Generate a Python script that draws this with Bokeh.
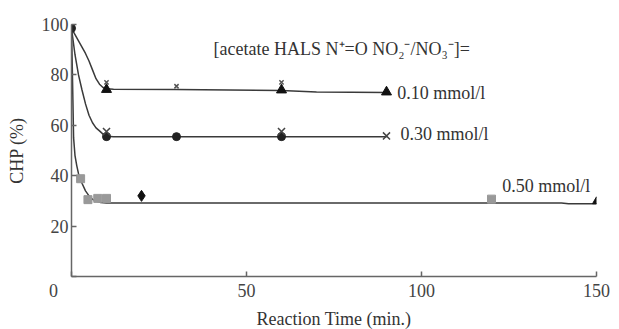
from bokeh.plotting import figure
from bokeh.models import Label, Range1d, FixedTicker
from bokeh.embed import file_html
from bokeh.resources import INLINE

# ---- data ----
start_x = [0]
start_y = [98.5]

# 0.10 mmol/l
s10_tri_x = [10, 60, 90]
s10_tri_y = [74.2, 74.0, 73.2]
s10_err_x = [10, 30, 60]
s10_err_y = [77.0, 75.5, 77.0]
fit10_x = [0, 1, 2, 3, 4, 5, 6, 7, 8, 9, 10, 12, 30, 60, 70, 90]
fit10_y = [98.5, 96, 93.5, 91, 88.5, 85.5, 82, 78.5, 76.3, 75, 74.5, 74.3, 74.2, 73.8, 73.2, 73.0]

# 0.30 mmol/l
s30_dot_x = [10, 30, 60]
s30_dot_y = [55.5, 55.5, 55.5]
s30_x_x = [10, 60, 90]
s30_x_y = [57.5, 57.5, 55.8]
fit30_x = [0, 1, 2, 3, 4, 5, 6, 7, 8, 9, 10, 12, 90]
fit30_y = [98.5, 88, 80, 74, 68.5, 64, 61, 59, 57.8, 56.5, 55.7, 55.5, 55.5]

# 0.50 mmol/l
s50_sq_x = [2.6, 4.7, 7.5, 10, 120]
s50_sq_y = [38.8, 30.5, 31.0, 31.0, 30.7]
s50_dia_x = [20]
s50_dia_y = [32]
s50_end_x = [150]
s50_end_y = [29.8]
fit50_x = [0, 0.2, 0.4, 0.6, 1, 1.5, 2, 3, 4, 5, 6, 7, 8.3, 10, 140, 142, 150]
fit50_y = [98.5, 85, 70, 55, 48, 44, 40.8, 37, 34, 32, 30.6, 29.9, 29.4, 29.2, 29.2, 28.9, 28.9]

series_labels = ["0.10 mmol/l", "0.30 mmol/l", "0.50 mmol/l"]
label_pos_x = [93.1, 94.0, 123.1]
label_pos_y = [72.9, 56.7, 36.0]
title_text = "[acetate HALS N\u207a=O NO\u2082\u207b/NO\u2083\u207b]="

x_ticks = [0, 50, 100, 150]
y_ticks = [0, 20, 40, 60, 80, 100]
origin_label = "0" + "\u00a0" * 8   # origin "0" sits left of the corner in the reference

FONT = "Liberation Serif"
FS = "18px"
LINE = "#3a3a3a"
AX = "#666666"

p = figure(frame_width=525, frame_height=252, output_backend="svg",
           toolbar_location=None, x_range=Range1d(0, 150), y_range=Range1d(0, 100),
           min_border_left=71, min_border_right=15, min_border_top=24, min_border_bottom=48)
p.outline_line_color = None
p.grid.visible = False
p.background_fill_color = "white"

for ax in (p.xaxis[0], p.yaxis[0]):
    ax.axis_line_color = AX
    ax.axis_line_width = 1.5
    ax.major_tick_line_color = AX
    ax.major_tick_line_width = 1.5
    ax.major_tick_in = 5
    ax.major_tick_out = 0
    ax.minor_tick_line_color = None
    ax.major_label_text_font = FONT
    ax.major_label_text_font_size = FS
    ax.major_label_text_color = "#444444"
    ax.axis_label_text_font = FONT
    ax.axis_label_text_font_size = FS
    ax.axis_label_text_font_style = "normal"
    ax.axis_label_text_color = "#333333"

p.xaxis.ticker = FixedTicker(ticks=x_ticks)
p.yaxis.ticker = FixedTicker(ticks=y_ticks)
p.xaxis.major_label_overrides = {0: origin_label}
p.yaxis.major_label_overrides = {0: ""}
p.xaxis.axis_label = "Reaction Time (min.)"
p.yaxis.axis_label = "CHP (%)"
p.xaxis.major_label_standoff = 4
p.xaxis.axis_label_standoff = 5
p.yaxis.major_label_standoff = 3
p.yaxis.axis_label_standoff = 12

# fit lines
p.line(fit10_x, fit10_y, line_color=LINE, line_width=1.5)
p.line(fit30_x, fit30_y, line_color=LINE, line_width=1.5)
p.line(fit50_x, fit50_y, line_color=LINE, line_width=1.5)

# markers
p.scatter(start_x, start_y, marker="circle", size=8, color="#222222")
p.scatter(s10_tri_x, s10_tri_y, marker="triangle", size=10, color="#111111")
p.scatter(s10_err_x, s10_err_y, marker="x", size=6, line_color="#555555", line_width=1.5)
p.scatter(s30_dot_x, s30_dot_y, marker="circle", size=8, color="#222222")
p.scatter(s30_x_x, s30_x_y, marker="x", size=10, line_color="#444444", line_width=1.5)
p.scatter(s50_sq_x, s50_sq_y, marker="square", size=8, color="#999999")
p.scatter(s50_dia_x, s50_dia_y, marker="diamond", size=11, color="#111111")
p.scatter(s50_end_x, s50_end_y, marker="triangle", size=8, color="#111111")

# annotations
p.add_layout(Label(x=40.6, y=90.4, text=title_text, text_font=FONT, text_font_size=FS,
                   text_color="#333333", text_baseline="middle"))
for t, lx, ly in zip(series_labels, label_pos_x, label_pos_y):
    p.add_layout(Label(x=lx, y=ly, text=t, text_font=FONT, text_font_size=FS,
                       text_color="#333333", text_baseline="middle"))

open("out.html", "w").write(file_html(p, INLINE))
